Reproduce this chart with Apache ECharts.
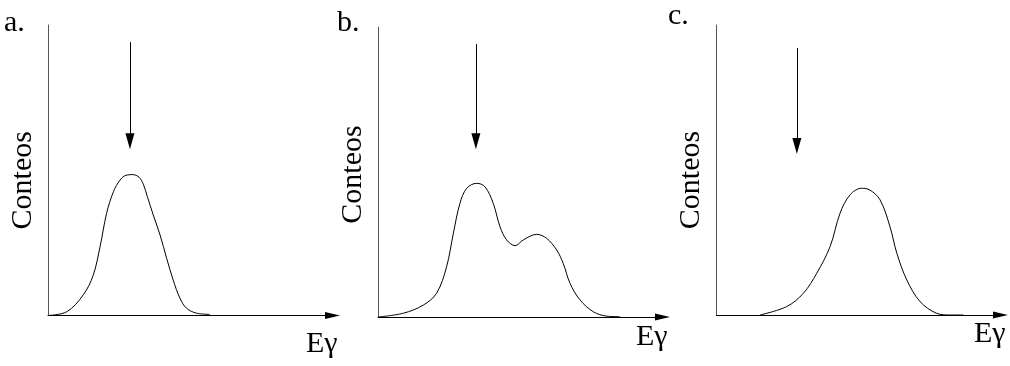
<!DOCTYPE html>
<html>
<head>
<meta charset="utf-8">
<script src="https://cdn.jsdelivr.net/npm/echarts@6/dist/echarts.min.js"></script>
<style>
  html, body { margin: 0; padding: 0; background: #fff; }
  #chart { width: 1010px; height: 366px; }
</style>
</head>
<body>
<div id="chart"></div>
<script>
// Gamma spectra, energy in arbitrary channel units (0–100), counts normalised (0–100)
const energyA = [0, 6.6, 12.4, 15.9, 18.3, 20.6, 23.0, 25.3, 27.5, 29.8, 32.0, 33.5, 34.9, 37.0, 39.4, 41.7, 44.0, 46.4, 48.7, 52.2, 56.9];
const countsA = [0, 1.3, 7.1, 13.9, 23.7, 35.2, 42.6, 46.6, 48.3, 48.5, 47.6, 45.2, 41.0, 34.6, 27.7, 19.7, 12.2, 5.9, 2.5, 0.8, 0.4];

const energyB = [0, 8.9, 15.9, 20.6, 24.1, 26.5, 28.8, 31.2, 34.7, 37.6, 40.5, 42.9, 45.2, 48.2, 51.1, 55.8, 59.3, 62.8, 65.1, 67.5, 71.0, 75.7, 80.4, 85.1];
const countsB = [0, 1.3, 4.1, 8.2, 17.3, 28.9, 39.2, 44.4, 46.1, 44.9, 39.2, 31.1, 26.6, 24.6, 26.6, 28.5, 27.1, 23.1, 18.5, 11.6, 5.9, 1.8, 0.3, 0.1];

const energyC = [15.3, 24.7, 30.6, 35.3, 40.0, 43.5, 47.0, 51.1, 54.0, 57.6, 61.1, 63.5, 67.0, 71.7, 77.5, 82.2, 86.9];
const countsC = [0, 2.9, 7.5, 14.4, 23.6, 35.1, 41.4, 43.7, 43.1, 39.7, 30.4, 21.3, 12.1, 4.6, 0.6, 0, 0];

// Expected line energy marked by a downward arrow in each panel
const arrowEnergy = [28.8, 34.4, 28.3];
const arrowTop = [94.1, 94.1, 92.1];
const arrowEnd = [60.0, 60.6, 58.3];

const panelLabels = ['a.', 'b.', 'c.'];
const yAxisName = 'Conteos';
const xAxisName = 'Eγ';

const FONT = 'Liberation Serif';
const energies = [energyA, energyB, energyC];
const counts = [countsA, countsB, countsC];

// Panel frames
const grids = [
  { left: 48,    top: 25, width: 284.5, height: 290.5 },
  { left: 378,   top: 27, width: 284.5, height: 290 },
  { left: 716.5, top: 25, width: 284,   height: 290 }
];
const xNamePad = [14, 5, 4];
const yNameShift = [20, 5, 20];
const labelPos = [{ left: 4, top: 8 }, { left: 337, top: 8 }, { left: 668, top: 1 }];

const chart = echarts.init(document.getElementById('chart'), null, { renderer: 'canvas' });

const option = {
  animation: false,
  backgroundColor: '#fff',
  title: panelLabels.map((t, i) => ({
    text: t,
    left: labelPos[i].left,
    top: labelPos[i].top,
    padding: 0,
    textStyle: { fontFamily: FONT, fontSize: 30, fontWeight: 'normal', color: '#000' }
  })),
  grid: grids.map(g => Object.assign({ containLabel: false }, g)),
  xAxis: grids.map((g, i) => ({
    type: 'value',
    gridIndex: i,
    min: 0,
    max: 100,
    axisLine: {
      show: true,
      onZero: false,
      symbol: ['none', 'triangle'],
      symbolSize: [7, 15],
      lineStyle: { color: '#000', width: 1 }
    },
    axisTick: { show: false },
    axisLabel: { show: false },
    splitLine: { show: false },
    name: xAxisName,
    nameLocation: 'end',
    nameGap: 5,
    nameTextStyle: {
      fontFamily: FONT, fontSize: 30, color: '#000',
      align: 'right', verticalAlign: 'top',
      padding: [xNamePad[i], 0, 0, 0]
    }
  })),
  yAxis: grids.map((g, i) => ({
    type: 'value',
    gridIndex: i,
    min: 0,
    max: 100,
    axisLine: { show: true, onZero: false, lineStyle: { color: '#555', width: 1 } },
    axisTick: { show: false },
    axisLabel: { show: false },
    splitLine: { show: false },
    name: yAxisName,
    nameLocation: 'middle',
    nameRotate: 90,
    nameGap: 10,
    nameTextStyle: {
      fontFamily: FONT, fontSize: 30, color: '#000',
      padding: [0, yNameShift[i], 0, 0]
    }
  })),
  series: energies.map((xs, i) => ({
    type: 'line',
    xAxisIndex: i,
    yAxisIndex: i,
    data: xs.map((x, k) => [x, counts[i][k]]),
    showSymbol: false,
    smooth: 0.35,
    lineStyle: { color: '#000', width: 1 },
    silent: true,
    markLine: {
      silent: true,
      symbol: ['none', 'triangle'],
      symbolSize: [9, 16],
      label: { show: false },
      lineStyle: { color: '#000', width: 1, type: 'solid' },
      data: [[
        { coord: [arrowEnergy[i], arrowTop[i]] },
        { coord: [arrowEnergy[i], arrowEnd[i]] }
      ]]
    }
  }))
};

chart.setOption(option);
</script>
</body>
</html>
